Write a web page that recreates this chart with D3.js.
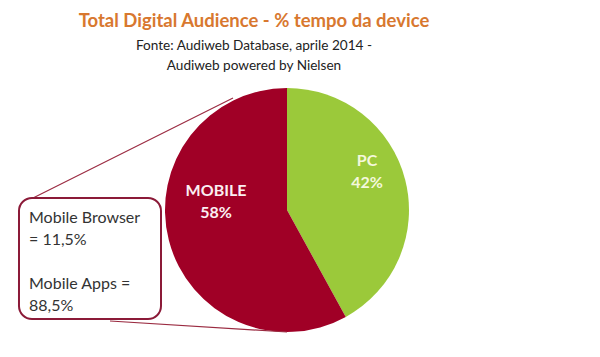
<!DOCTYPE html>
<html><head><meta charset="utf-8">
<script src="https://cdn.jsdelivr.net/npm/d3@7"></script>
<style>body{margin:0;background:#fff}svg{display:block}</style>
</head><body>
<svg id="c" width="600" height="357"></svg>
<script>
const categories = ["PC", "MOBILE"];
const values = [42, 58];
const labels = ["42%", "58%"];
const titleText = "Total Digital Audience - % tempo da device";
const subtitleLines = ["Fonte: Audiweb Database, aprile 2014 -", "Audiweb powered by Nielsen"];
const breakdownLines = ["Mobile Browser", "= 11,5%", "", "Mobile Apps =", "88,5%"];

const svg = d3.select("#c");
const font = "Lato, 'Open Sans', sans-serif";
const colors = d3.scaleOrdinal().domain(categories).range(["#9bc93a", "#a00026"]);

svg.append("text").attr("x", 254).attr("y", 27).attr("text-anchor", "middle")
  .attr("font-family", font).attr("font-weight", "bold").attr("font-size", 18.5)
  .attr("fill", "#d8782f").text(titleText);
subtitleLines.forEach((t, i) => svg.append("text").attr("x", 254).attr("y", 50 + i * 20)
  .attr("text-anchor", "middle").attr("font-family", font).attr("font-size", 13.6)
  .attr("fill", "#222").text(t));

const cx = 287, cy = 210, r = 122;
const pie = d3.pie().sort(null).value(d => d.v);
const arcs = pie(categories.map((c, i) => ({c, v: values[i], l: labels[i]})));
const arc = d3.arc().innerRadius(0).outerRadius(r);
const g = svg.append("g").attr("transform", `translate(${cx},${cy})`);

// callout lines
const lineColor = "#9a2a40";
svg.append("line").attr("x1", 33).attr("y1", 198).attr("x2", 233).attr("y2", 98)
  .attr("stroke", lineColor).attr("stroke-width", 1.2);
svg.append("line").attr("x1", 110).attr("y1", 321).attr("x2", 287).attr("y2", 332)
  .attr("stroke", lineColor).attr("stroke-width", 1.2);

g.selectAll("path").data(arcs).enter().append("path")
  .attr("d", arc).attr("fill", d => colors(d.data.c));

const labelPos = {PC: [80, -44], MOBILE: [-71, -14]};
arcs.forEach(d => {
  const [x, y] = labelPos[d.data.c];
  const t = g.append("text").attr("text-anchor", "middle").attr("font-family", font)
    .attr("font-weight", "bold").attr("font-size", 16)
    .attr("fill", d.data.c === "PC" ? "#f4f8dc" : "#fbeff2");
  t.append("tspan").attr("x", x).attr("y", y).text(d.data.c);
  t.append("tspan").attr("x", x).attr("y", y + 22).text(d.data.l);
});

svg.append("rect").attr("x", 19).attr("y", 198).attr("width", 142).attr("height", 121)
  .attr("rx", 13).attr("fill", "#fff").attr("stroke", "#8b1a38").attr("stroke-width", 2);
breakdownLines.forEach((t, i) => svg.append("text").attr("x", 29).attr("y", 223 + i * 22)
  .attr("font-family", font).attr("font-size", 16).attr("fill", "#333").text(t));
</script>
</body></html>
